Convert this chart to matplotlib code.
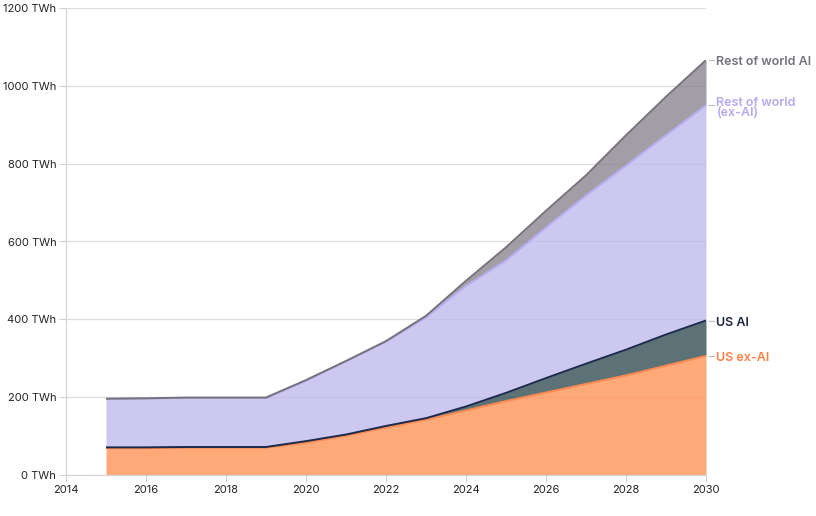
import numpy as np
import matplotlib.pyplot as plt

years = list(range(2015, 2031))

# stacked tops (TWh)
us_exai = [69, 69, 70, 70, 70, 83, 101, 122, 142, 166, 190, 212, 234, 256, 281, 306]
us_total = [71, 71, 72, 72, 72, 87, 104, 126, 146, 176, 211, 249, 286, 322, 361, 397]
row_exai_top = [196, 197, 198, 198, 198, 242, 292, 343, 405, 486, 551, 636, 718, 795, 873, 950]
world_total = [196, 197, 199, 199, 199, 244, 293, 344, 409, 499, 585, 679, 770, 873, 972, 1066]

labels = ["US ex-AI", "US AI", "Rest of world\n(ex-AI)", "Rest of world AI"]
fill_colors = ["#ff9a62", "#2e4a4f", "#bdb6ec", "#857e87"]
line_colors = ["#ff8a50", "#1b2a4a", "#b7aff5", "#76717a"]
text_colors = ["#ff7f45", "#1c2541", "#b3aaf0", "#76717a"]

plt.rcParams['font.family'] = ['Inter', 'DejaVu Sans']

fig = plt.figure(figsize=(8.16, 5.16), dpi=100)
ax = fig.add_axes([66 / 816, 41 / 516, 640 / 816, 467 / 516])

yrs = np.array(years)
tops = [np.array(us_exai), np.array(us_total), np.array(row_exai_top), np.array(world_total)]
bottoms = [np.zeros(len(yrs))] + tops[:-1]
alphas = [0.85, 0.78, 0.75, 0.75]

for i in range(4):
    ax.fill_between(yrs, bottoms[i], tops[i], color=fill_colors[i], alpha=alphas[i], lw=0, zorder=2)
for i in range(4):
    ax.plot(yrs, tops[i], color=line_colors[i], lw=1.4, zorder=3, solid_capstyle='butt')

# right hand labels
label_y = [306, 397, 950, 1066]
for i in range(4):
    ax.plot([2030.08, 2030.2], [label_y[i], label_y[i]], color="#bbbbbb", lw=0.8, clip_on=False)
    ax.text(2030.26, label_y[i] - 6, labels[i], color=text_colors[i], fontsize=9,
            fontweight='semibold', va='center', ha='left', linespacing=0.75, clip_on=False)

ax.set_xlim(2014, 2030)
ax.set_ylim(0, 1200)
ax.set_xticks(range(2014, 2031, 2))
ax.set_yticks(range(0, 1201, 200))
ax.set_yticklabels([f"{v} TWh" for v in range(0, 1201, 200)])
ax.grid(axis='y', color="#dddddd", lw=0.9, zorder=0)
ax.set_axisbelow(True)

for side in ['top', 'right']:
    ax.spines[side].set_visible(False)
for side in ['left', 'bottom']:
    ax.spines[side].set_color("#d5d5d5")
    ax.spines[side].set_linewidth(0.9)

ax.tick_params(axis='both', colors="#d0d0d0", labelcolor="#222222", labelsize=8, length=5, width=0.8)
ax.tick_params(axis='y', pad=2)
ax.tick_params(axis='x', pad=2)

fig.savefig("out.png", dpi=100)
